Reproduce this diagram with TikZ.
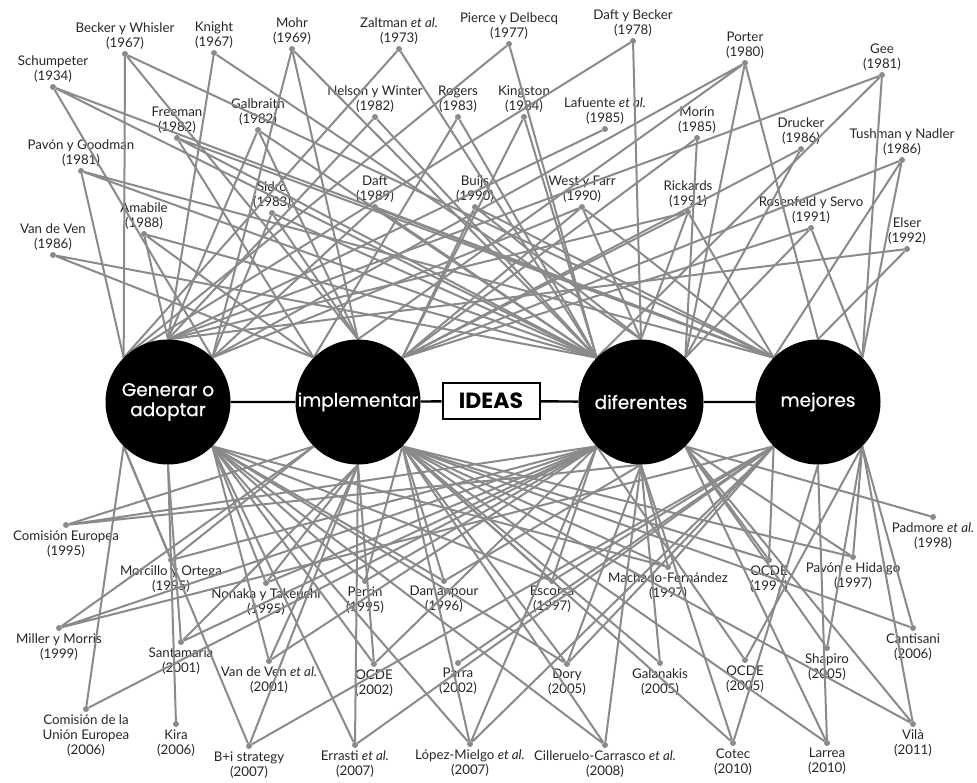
\documentclass[tikz,border=0pt]{standalone}
\usepackage{fontspec}
\setmainfont{Lato}
\newfontfamily\stagefont[FakeBold=0.6]{Poppins}
\newfontfamily\ideafont{Poppins}
\usepackage{tikz}
\usetikzlibrary{positioning}
\pgfdeclarelayer{front}
\pgfsetlayers{main,front}
\definecolor{linkgray}{HTML}{8A8A8A}
\newcommand{\lblfont}{\fontsize{13.3}{15}\selectfont}
\tikzstyle{link}    = [draw=linkgray, line width=2pt]
\tikzstyle{authdot} = [circle, fill=linkgray, inner sep=0pt, minimum size=6pt]
\tikzstyle{toplbl}  = [align=center, font=\lblfont, inner sep=1pt, text=black!85]
\tikzstyle{stage}   = [circle, fill=black, minimum size=125pt, inner sep=0pt, align=center, text=white, font=\stagefont\fontsize{18.5}{20}\selectfont]
\tikzstyle{ideabox} = [draw=black, line width=2pt, fill=white, minimum width=97pt, minimum height=35pt, font=\ideafont\bfseries\fontsize{22}{22}\selectfont]
\tikzstyle{bar}     = [line width=2.4pt]

\begin{document}
\begin{tikzpicture}[x=1pt,y=-1pt]
\useasboundingbox (0,0) rectangle (977,783);

% stages
\begin{pgfonlayer}{front}
\node[stage] (gen) at (168,402) {Generar o\\adoptar};
\node[stage] (imp) at (358,402) {implementar};
\node[ideabox] (ideas) at (491,401) {IDEAS};
\node[stage] (dif) at (641,402) {diferentes};
\node[stage] (mej) at (818,402) {mejores};
\end{pgfonlayer}
\draw[bar] (gen) -- (imp) -- (ideas) -- (dif) -- (mej);

% authors above
\node[authdot] (schump)   at (53,87)   {};
\node[authdot] (becker)   at (125,54)  {};
\node[authdot] (knight)   at (214,53)  {};
\node[authdot] (mohr)     at (292,49)  {};
\node[authdot] (zaltman)  at (399,49)  {};
\node[authdot] (pierce)   at (509,44)  {};
\node[authdot] (daftbeck) at (633,41)  {};
\node[authdot] (porter)   at (745,63)  {};
\node[authdot] (gee)      at (882,75)  {};
\node[authdot] (freeman)  at (177,138) {};
\node[authdot] (galbr)    at (258,130) {};
\node[authdot] (nelson)   at (375,117) {};
\node[authdot] (rogers)   at (458,117) {};
\node[authdot] (kingst)   at (524,117) {};
\node[authdot] (lafuen)   at (605,129) {};
\node[authdot] (morin)    at (697,138) {};
\node[authdot] (drucker)  at (801,149) {};
\node[authdot] (tushman)  at (902,160) {};
\node[authdot] (pavgood)  at (81,171)  {};
\node[authdot] (sidro)    at (272,213) {};
\node[authdot] (daft)     at (375,207) {};
\node[authdot] (buijs)    at (475,207) {};
\node[authdot] (westf)    at (582,207) {};
\node[authdot] (rickards) at (688,212) {};
\node[authdot] (rosenf)   at (811,228) {};
\node[authdot] (amabile)  at (144,234) {};
\node[authdot] (vdven)    at (53,255)  {};
\node[authdot] (elser)    at (907,249) {};

\node[toplbl, above=0pt of schump]   (schumpL)   {Schumpeter\\(1934)};
\node[toplbl, above=0pt of becker]   (beckerL)   {Becker y Whisler\\(1967)};
\node[toplbl, above=0pt of knight]   (knightL)   {Knight\\(1967)};
\node[toplbl, above=0pt of mohr]     (mohrL)     {Mohr\\(1969)};
\node[toplbl, above=0pt of zaltman]  (zaltmanL)  {Zaltman \textit{et al.}\\(1973)};
\node[toplbl, above=0pt of pierce]   (pierceL)   {Pierce y Delbecq\\(1977)};
\node[toplbl, above=0pt of daftbeck] (daftbeckL) {Daft y Becker\\(1978)};
\node[toplbl, above=0pt of porter]   (porterL)   {Porter\\(1980)};
\node[toplbl, above=0pt of gee]      (geeL)      {Gee\\(1981)};
\node[toplbl, above=0pt of freeman]  (freemanL)  {Freeman\\(1982)};
\node[toplbl, above=0pt of galbr]    (galbrL)    {Galbraith\\(1982)};
\node[toplbl, above=0pt of nelson]   (nelsonL)   {Nelson y Winter\\(1982)};
\node[toplbl, above=0pt of rogers]   (rogersL)   {Rogers\\(1983)};
\node[toplbl, above=0pt of kingst]   (kingstL)   {Kingston\\(1984)};
\node[toplbl, above=0pt of lafuen]   (lafuenL)   {Lafuente \textit{et al.}\\(1985)};
\node[toplbl, above=0pt of morin]    (morinL)    {Morín\\(1985)};
\node[toplbl, above=0pt of drucker]  (druckerL)  {Drucker\\(1986)};
\node[toplbl, above=0pt of tushman]  (tushmanL)  {Tushman y Nadler\\(1986)};
\node[toplbl, above=0pt of pavgood]  (pavgoodL)  {Pavón y Goodman\\(1981)};
\node[toplbl, above=0pt of sidro]    (sidroL)    {Sidro\\(1983)};
\node[toplbl, above=0pt of daft]     (daftL)     {Daft\\(1989)};
\node[toplbl, above=0pt of buijs]    (buijsL)    {Buijs\\(1990)};
\node[toplbl, above=0pt of westf]    (westfL)    {West y Farr\\(1990)};
\node[toplbl, above=0pt of rickards] (rickardsL) {Rickards\\(1991)};
\node[toplbl, above=0pt of rosenf]   (rosenfL)   {Rosenfeld y Servo\\(1991)};
\node[toplbl, above=0pt of amabile]  (amabileL)  {Amabile\\(1988)};
\node[toplbl, above=0pt of vdven]    (vdvenL)    {Van de Ven\\(1986)};
\node[toplbl, above=0pt of elser]    (elserL)    {Elser\\(1992)};

% authors below
\node[authdot] (comeur)   at (66,525)  {};
\node[authdot] (padmore)  at (933,517) {};
\node[authdot] (morcillo) at (171,560) {};
\node[authdot] (nonaka)   at (266,583) {};
\node[authdot] (perrin)   at (365,581) {};
\node[authdot] (damanp)   at (444,581) {};
\node[authdot] (escorsa)  at (552,581) {};
\node[authdot] (machado)  at (668,567) {};
\node[authdot] (ocdeA)    at (769,560) {};
\node[authdot] (pavhid)   at (853,557) {};
\node[authdot] (miller)   at (59,628)  {};
\node[authdot] (santam)   at (181,642) {};
\node[authdot] (vdvenal)  at (269,661) {};
\node[authdot] (ocdeB)    at (374,664) {};
\node[authdot] (parra)    at (458,663) {};
\node[authdot] (dory)     at (567,664) {};
\node[authdot] (galan)    at (660,663) {};
\node[authdot] (ocdeC)    at (745,660) {};
\node[authdot] (shapiro)  at (827,648) {};
\node[authdot] (cantis)   at (913,628) {};
\node[authdot] (comue)    at (86,709)  {};
\node[authdot] (kira)     at (176,724) {};
\node[authdot] (bistrat)  at (249,746) {};
\node[authdot] (errasti)  at (355,745) {};
\node[authdot] (lopez)    at (470,744) {};
\node[authdot] (cillero)  at (605,745) {};
\node[authdot] (cotec)    at (733,743) {};
\node[authdot] (larrea)   at (827,743) {};
\node[authdot] (vila)     at (913,724) {};

\node[toplbl, below=1pt of comeur]   (comeurL)   {Comisión Europea\\(1995)};
\node[toplbl, below=1pt of padmore]  (padmoreL)  {Padmore \textit{et al.}\\(1998)};
\node[toplbl, below=1pt of morcillo] (morcilloL) {Morcillo y Ortega\\(1995)};
\node[toplbl, below=1pt of nonaka]   (nonakaL)   {Nonaka y Takeuchi\\(1995)};
\node[toplbl, below=1pt of perrin]   (perrinL)   {Perrin\\(1995)};
\node[toplbl, below=1pt of damanp]   (damanpL)   {Damanpour\\(1996)};
\node[toplbl, below=1pt of escorsa]  (escorsaL)  {Escorsa\\(1997)};
\node[toplbl, below=1pt of machado]  (machadoL)  {Machado-Fernández\\(1997)};
\node[toplbl, below=1pt of ocdeA]    (ocdeAL)    {OCDE\\(1997)};
\node[toplbl, below=1pt of pavhid]   (pavhidL)   {Pavón e Hidalgo\\(1997)};
\node[toplbl, below=1pt of miller]   (millerL)   {Miller y Morris\\(1999)};
\node[toplbl, below=1pt of santam]   (santamL)   {Santamaría\\(2001)};
\node[toplbl, below=1pt of vdvenal]  (vdvenalL)  {Van de Ven \textit{et al.}\\(2001)};
\node[toplbl, below=1pt of ocdeB]    (ocdeBL)    {OCDE\\(2002)};
\node[toplbl, below=1pt of parra]    (parraL)    {Parra\\(2002)};
\node[toplbl, below=1pt of dory]     (doryL)     {Dory\\(2005)};
\node[toplbl, below=1pt of galan]    (galanL)    {Galanakis\\(2005)};
\node[toplbl, below=1pt of ocdeC]    (ocdeCL)    {OCDE\\(2005)};
\node[toplbl, below=1pt of shapiro]  (shapiroL)  {Shapiro\\(2005)};
\node[toplbl, below=1pt of cantis]   (cantisL)   {Cantisani\\(2006)};
\node[toplbl, below=1pt of comue]    (comueL)    {Comisión de la\\Unión Europea\\(2006)};
\node[toplbl, below=1pt of kira]     (kiraL)     {Kira\\(2006)};
\node[toplbl, below=1pt of bistrat]  (bistratL)  {B+i strategy\\(2007)};
\node[toplbl, below=1pt of errasti]  (errastiL)  {Errasti \textit{et al.}\\(2007)};
\node[toplbl, below=1pt of lopez]    (lopezL)    {López-Mielgo \textit{et al.}\\(2007)};
\node[toplbl, below=1pt of cillero]  (cilleroL)  {Cilleruelo-Carrasco \textit{et al.}\\(2008)};
\node[toplbl, below=1pt of cotec]    (cotecL)    {Cotec\\(2010)};
\node[toplbl, below=1pt of larrea]   (larreaL)   {Larrea\\(2010)};
\node[toplbl, below=1pt of vila]     (vilaL)     {Vilà\\(2011)};

% links, upper half
\draw[link] (schump) -- (gen.north east) (schump) -- (dif.north west) (schump) -- (mej.north west);
\draw[link] (becker) -- (gen.north west) (becker) -- (imp.north) (becker) -- (mej.north west);
\draw[link] (knight) -- (gen.north) (knight) -- (dif.north);
\draw[link] (mohr) -- (gen.north east) (mohr) -- (imp.north) (mohr) -- (dif.north west);
\draw[link] (zaltman) -- (gen.north west) (zaltman) -- (dif.north west);
\draw[link] (pierce) -- (gen.north west) (pierce) -- (dif.north west);
\draw[link] (daftbeck) -- (gen.north west) (daftbeck) -- (dif.north);
\draw[link] (porter) -- (gen.north east) (porter) -- (imp.north) (porter) -- (dif.north east) (porter) -- (mej.north);
\draw[link] (gee) -- (gen.north) (gee) -- (dif.north west) (gee) -- (mej.north east);
\draw[link] (freeman) -- (imp.north west) (freeman) -- (dif.north west) (freeman) -- (mej.north west);
\draw[link] (galbr) -- (gen.north) (galbr) -- (imp.north) (galbr) -- (dif.north west);
\draw[link] (nelson) -- (gen.north) (nelson) -- (dif.north west);
\draw[link] (rogers) -- (imp.north west) (rogers) -- (dif.north west);
\draw[link] (kingst) -- (imp.north east) (kingst) -- (dif.north west);
\draw[link] (lafuen) -- (gen.north);
\draw[link] (morin) -- (imp.north east) (morin) -- (dif.north east);
\draw[link] (drucker) -- (imp.north east) (drucker) -- (dif.north east);
\draw[link] (tushman) -- (imp.north east) (tushman) -- (mej.north west) (tushman) -- (mej.north east);
\draw[link] (pavgood) -- (gen.north west) (pavgood) -- (dif.north west) (pavgood) -- (mej.north west);
\draw[link] (sidro) -- (gen.north east) (sidro) -- (imp.north) (sidro) -- (dif.north west);
\draw[link] (daft) -- (gen.north east) (daft) -- (dif.north west) (daft) -- (mej.north west);
\draw[link] (buijs) -- (imp.north east) (buijs) -- (dif.north) (buijs) -- (mej.north west);
\draw[link] (westf) -- (gen.north east) (westf) -- (imp.north east) (westf) -- (dif.north) (westf) -- (mej.north west);
\draw[link] (rickards) -- (gen.north) (rickards) -- (imp.north east) (rickards) -- (dif.north) (rickards) -- (mej.north west);
\draw[link] (rosenf) -- (imp.north east) (rosenf) -- (dif.north east) (rosenf) -- (mej.north east);
\draw[link] (amabile) -- (gen.north) (amabile) -- (imp.north west) (amabile) -- (dif.north west);
\draw[link] (vdven) -- (imp.north west) (vdven) -- (dif.north west);
\draw[link] (elser) -- (gen.north) (elser) -- (mej.north);

% links, lower half
\draw[link] (comeur) -- (imp.south west) (comeur) -- (dif.south west) (comeur) -- (dif.south);
\draw[link] (morcillo) -- (gen.south west) (morcillo) -- (imp.south west) (morcillo) -- (dif.south west);
\draw[link] (nonaka) -- (gen.south east) (nonaka) -- (imp.south) (nonaka) -- (dif.south west);
\draw[link] (miller) -- (imp.south west) (miller) -- (dif.south west) (miller) -- (mej.south west);
\draw[link] (santam) -- (gen.south) (santam) -- (imp.south) (santam) -- (dif.south west);
\draw[link] (vdvenal) -- (gen.south east) (vdvenal) -- (imp.south) (vdvenal) -- (dif.south west);
\draw[link] (comue) -- (gen.south west) (comue) -- (dif.south west);
\draw[link] (kira) -- (gen.south);
\draw[link] (bistrat) -- (gen.south west) (bistrat) -- (imp.south) (bistrat) -- (mej.south west);
\draw[link] (perrin) -- (gen.south east) (perrin) -- (imp.south east) (perrin) -- (dif.south west);
\draw[link] (damanp) -- (gen.south east) (damanp) -- (imp.south east) (damanp) -- (dif.south);
\draw[link] (escorsa) -- (gen.south east) (escorsa) -- (imp.south east) (escorsa) -- (dif.south west) (escorsa) -- (mej.south west);
\draw[link] (ocdeB) -- (gen.south east) (ocdeB) -- (imp.south) (ocdeB) -- (dif.south west);
\draw[link] (parra) -- (mej.south west);
\draw[link] (dory) -- (gen.south east) (dory) -- (imp.south east) (dory) -- (dif.south) (dory) -- (mej.south west);
\draw[link] (errasti) -- (gen.south east) (errasti) -- (imp.south) (errasti) -- (mej.south west);
\draw[link] (lopez) -- (gen.south east) (lopez) -- (imp.south east) (lopez) -- (dif.south west) (lopez) -- (mej.south west);
\draw[link] (cillero) -- (gen.south east) (cillero) -- (imp.south east) (cillero) -- (dif.south);
\draw[link] (machado) -- (gen.south east) (machado) -- (imp.south east) (machado) -- (dif.south) (machado) -- (mej.south west);
\draw[link] (ocdeA) -- (imp.south east) (ocdeA) -- (dif.south east) (ocdeA) -- (mej.south west);
\draw[link] (pavhid) -- (imp.south east) (pavhid) -- (dif.south east) (pavhid) -- (mej.south east);
\draw[link] (padmore) -- (dif.south east);
\draw[link] (cantis) -- (imp.south east) (cantis) -- (mej.south east);
\draw[link] (galan) -- (imp.south east) (galan) -- (dif.south);
\draw[link] (ocdeC) -- (dif.south west) (ocdeC) -- (mej.south east);
\draw[link] (shapiro) -- (dif.south east) (shapiro) -- (mej.south east);
\draw[link] (vila) -- (imp.south east) (vila) -- (dif.south east) (vila) -- (mej.south east);
\draw[link] (cotec) -- (imp.south east) (cotec) -- (dif.south) (cotec) -- (mej.south);
\draw[link] (larrea) -- (imp.south east) (larrea) -- (dif.south east) (larrea) -- (mej.south);

\end{tikzpicture}
\end{document}
